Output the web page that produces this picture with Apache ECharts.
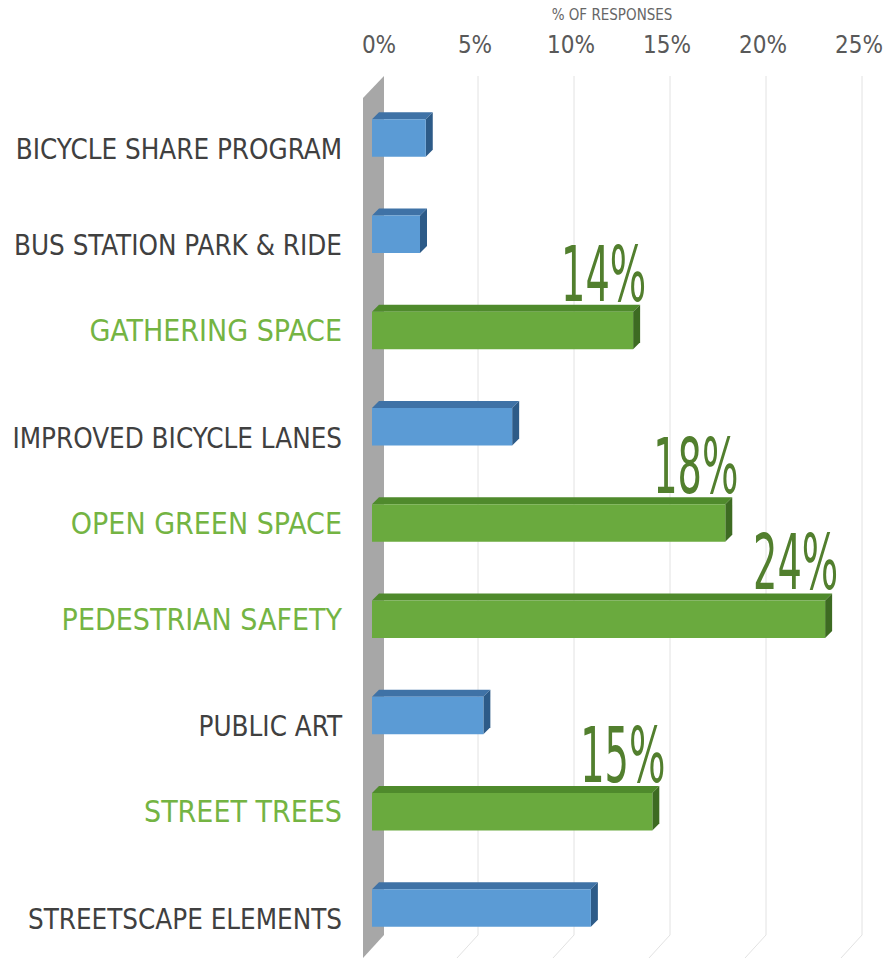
<!DOCTYPE html>
<html>
<head>
<meta charset="utf-8">
<title>% of responses</title>
<script src="https://cdn.jsdelivr.net/npm/echarts@6/dist/echarts.min.js"></script>
<style>
  html, body { margin: 0; padding: 0; background: #fff; }
  #chart { width: 885px; height: 963px; }
</style>
</head>
<body>
<div id="chart"></div>
<script>
const categories = [
  "BICYCLE SHARE PROGRAM",
  "BUS STATION PARK & RIDE",
  "GATHERING SPACE",
  "IMPROVED BICYCLE LANES",
  "OPEN GREEN SPACE",
  "PEDESTRIAN SAFETY",
  "PUBLIC ART",
  "STREET TREES",
  "STREETSCAPE ELEMENTS",
];
const responses = [2.8, 2.5, 13.6, 7.3, 18.4, 23.6, 5.8, 14.6, 11.4];
const highlighted = ["GATHERING SPACE", "OPEN GREEN SPACE", "PEDESTRIAN SAFETY", "STREET TREES"];
const xTicks = [0, 5, 10, 15, 20, 25];

const FONT = "'Liberation Sans Narrow', 'DejaVu Sans Condensed', sans-serif";

const colors = {
  blue: { front: "#5b9bd5", top: "#3f72a6", side: "#2d5b88" },
  green: { front: "#6aaa3e", top: "#4f8a2c", side: "#3d6b22" },
};

function renderWall(params, api) {
  const cs = params.coordSys;
  const v = api.value(0);
  const x = api.coord([v, 0])[0];
  const top = cs.y;
  const bottom = cs.y + cs.height;
  if (v === 0) {
    // gray back wall
    return {
      type: "polygon",
      shape: {
        points: [
          [x - 9, top + 8],
          [x + 12, top - 14],
          [x + 12, bottom - 21],
          [x - 9, bottom + 2],
        ],
      },
      style: { fill: "#a7a7a7" },
    };
  }
  const gx = x + 10;
  return {
    type: "polyline",
    shape: {
      points: [
        [gx, top - 14],
        [gx, bottom - 21],
        [gx - 21, bottom + 2],
      ],
    },
    style: { stroke: "#e2e2e2", lineWidth: 1, fill: null },
  };
}

function renderBar(params, api) {
  const idx = api.value(1);
  const val = api.value(0);
  const start = api.coord([0, idx]);
  const end = api.coord([val, idx]);
  const h = api.size([0, 1])[1] * 0.39;
  const d = 7;
  const x0 = start[0];
  const x1 = end[0];
  const y0 = start[1] - h / 2;
  const isHi = highlighted.includes(categories[idx]);
  const c = isHi ? colors.green : colors.blue;

  const children = [
    {
      type: "polygon",
      shape: { points: [[x0, y0], [x0 + d, y0 - d], [x1 + d, y0 - d], [x1, y0]] },
      style: { fill: c.top },
    },
    {
      type: "polygon",
      shape: { points: [[x1, y0], [x1 + d, y0 - d], [x1 + d, y0 + h - d], [x1, y0 + h]] },
      style: { fill: c.side },
    },
    {
      type: "rect",
      shape: { x: x0, y: y0, width: x1 - x0, height: h },
      style: { fill: c.front },
    },
  ];

  if (isHi) {
    children.push({
      type: "text",
      x: x1 + 13,
      y: y0 - d + 8,
      scaleX: 0.56,
      style: {
        text: Math.round(val) + "%",
        fontFamily: FONT,
        fontSize: 76,
        fill: "#527f2e",
        align: "right",
        verticalAlign: "bottom",
      },
    });
  }
  return { type: "group", children };
}

const chart = echarts.init(document.getElementById("chart"), null, { renderer: "svg" });

const option = {
  backgroundColor: "#ffffff",
  animation: false,
  grid: { left: 372, right: 33, top: 90, bottom: 7, outerBoundsMode: "none", containLabel: false },
  xAxis: {
    type: "value",
    position: "top",
    min: 0,
    max: 25,
    interval: 5,
    name: "% OF RESPONSES",
    nameLocation: "middle",
    nameGap: 68,
    nameTextStyle: { fontFamily: FONT, fontSize: 15, color: "#666666" },
    axisLine: { show: false },
    axisTick: { show: false },
    splitLine: { show: false },
    axisLabel: {
      formatter: (v) => v + "%",
      fontFamily: FONT,
      fontSize: 24,
      color: "#595959",
      margin: 33,
      padding: [0, 0, 0, 14],
    },
  },
  yAxis: {
    type: "category",
    data: categories,
    inverse: true,
    axisLine: { show: false },
    axisTick: { show: false },
    splitLine: { show: false },
    axisLabel: {
      margin: 30,
      formatter: (v) => (highlighted.includes(v) ? "{hi|" + v + "}" : "{lo|" + v + "}"),
      rich: {
        hi: { fontFamily: FONT, fontSize: 30, color: "#74b443" },
        lo: { fontFamily: FONT, fontSize: 27.5, color: "#404040", padding: [22, 0, 0, 0] },
      },
    },
  },
  series: [
    {
      name: "frame",
      type: "custom",
      silent: true,
      z: 1,
      renderItem: renderWall,
      encode: { x: 0, y: 1 },
      data: xTicks.map((v) => [v, 0]),
    },
    {
      name: "% of responses",
      type: "custom",
      z: 2,
      renderItem: renderBar,
      encode: { x: 0, y: 1 },
      data: responses.map((v, i) => [v, i]),
    },
  ],
};

chart.setOption(option);
</script>
</body>
</html>
